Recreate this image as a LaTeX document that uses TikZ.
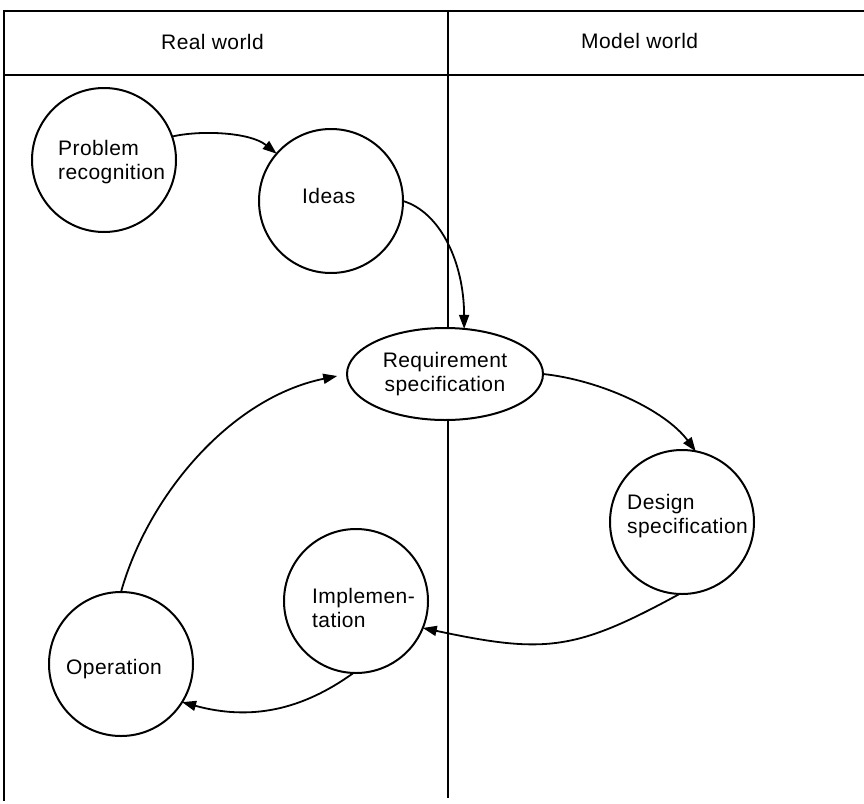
\documentclass[tikz,border=0pt]{standalone}
\usepackage{fontspec}
\setmainfont{Liberation Sans}[LetterSpace=2]
\usetikzlibrary{shapes.geometric,arrows.meta}
\begin{document}
\begin{tikzpicture}[x=1pt,y=1pt,
  font=\fontsize{21}{24}\selectfont,
  frame/.style={line width=2pt},
  stage/.style={circle,draw,line width=2pt,minimum size=144pt,inner sep=0pt,outer sep=0pt,fill=white},
  oval/.style={ellipse,draw,line width=2pt,minimum width=196pt,minimum height=92pt,inner sep=0pt,outer sep=0pt,fill=white,align=center},
  lbl/.style={inner sep=0pt,align=left},
  flow/.style={line width=1.8pt,-{Triangle[length=14pt,width=10pt]}}]

\useasboundingbox (0,0) rectangle (864,-803);

% table frame: top rule, header rule, left edge and the column divider
\draw[frame] (864,-11) -- (4,-11) -- (4,-801);
\draw[frame] (4,-75) -- (864,-75);
\draw[frame] (448,-11) -- (448,-798);

% column headings
\node[lbl,anchor=base west] (hreal) at (161,-49) {Real world};
\node[lbl,anchor=base west] (hmodel) at (581,-48) {Model world};

% stages of the life cycle
\node[stage] (pr) at (104,-160) {};
\node[stage] (ideas) at (331,-201) {};
\node[oval] (req) at (445,-374) {Requirement\\specification};
\node[stage] (design) at (682,-522) {};
\node[stage] (impl) at (356,-601) {};
\node[stage] (op) at (121,-664) {};

% stage texts
\node[lbl,anchor=west] (prt) at (58,-162) {Problem\\recognition};
\node[lbl,anchor=base west] (ideast) at (302,-203) {Ideas};
\node[lbl,anchor=west] (designt) at (627,-516) {Design\\specification};
\node[lbl,anchor=west] (implt) at (312,-608) {Implemen-\\tation};
\node[lbl,anchor=base west] (opt) at (66,-674) {Operation};

% transitions
\draw[flow] (pr.19) .. controls (200,-130) and (250,-132) .. (ideas.139);
\draw[flow] (ideas.0) .. controls (440,-212) and (464,-262) .. (req.67);
\draw[flow] (req.east) .. controls (600,-380) and (665,-410) .. (design.79);
\draw[flow] (design.-92) .. controls (575,-651) and (545,-654) .. (impl.-22);
\draw[flow] (impl.-92) .. controls (302,-710) and (251,-721) .. (op.-32);
\draw[flow,shorten >=10pt] (op.90) .. controls (147.6,-497) and (229.4,-398) .. (req.west);
\end{tikzpicture}
\end{document}
